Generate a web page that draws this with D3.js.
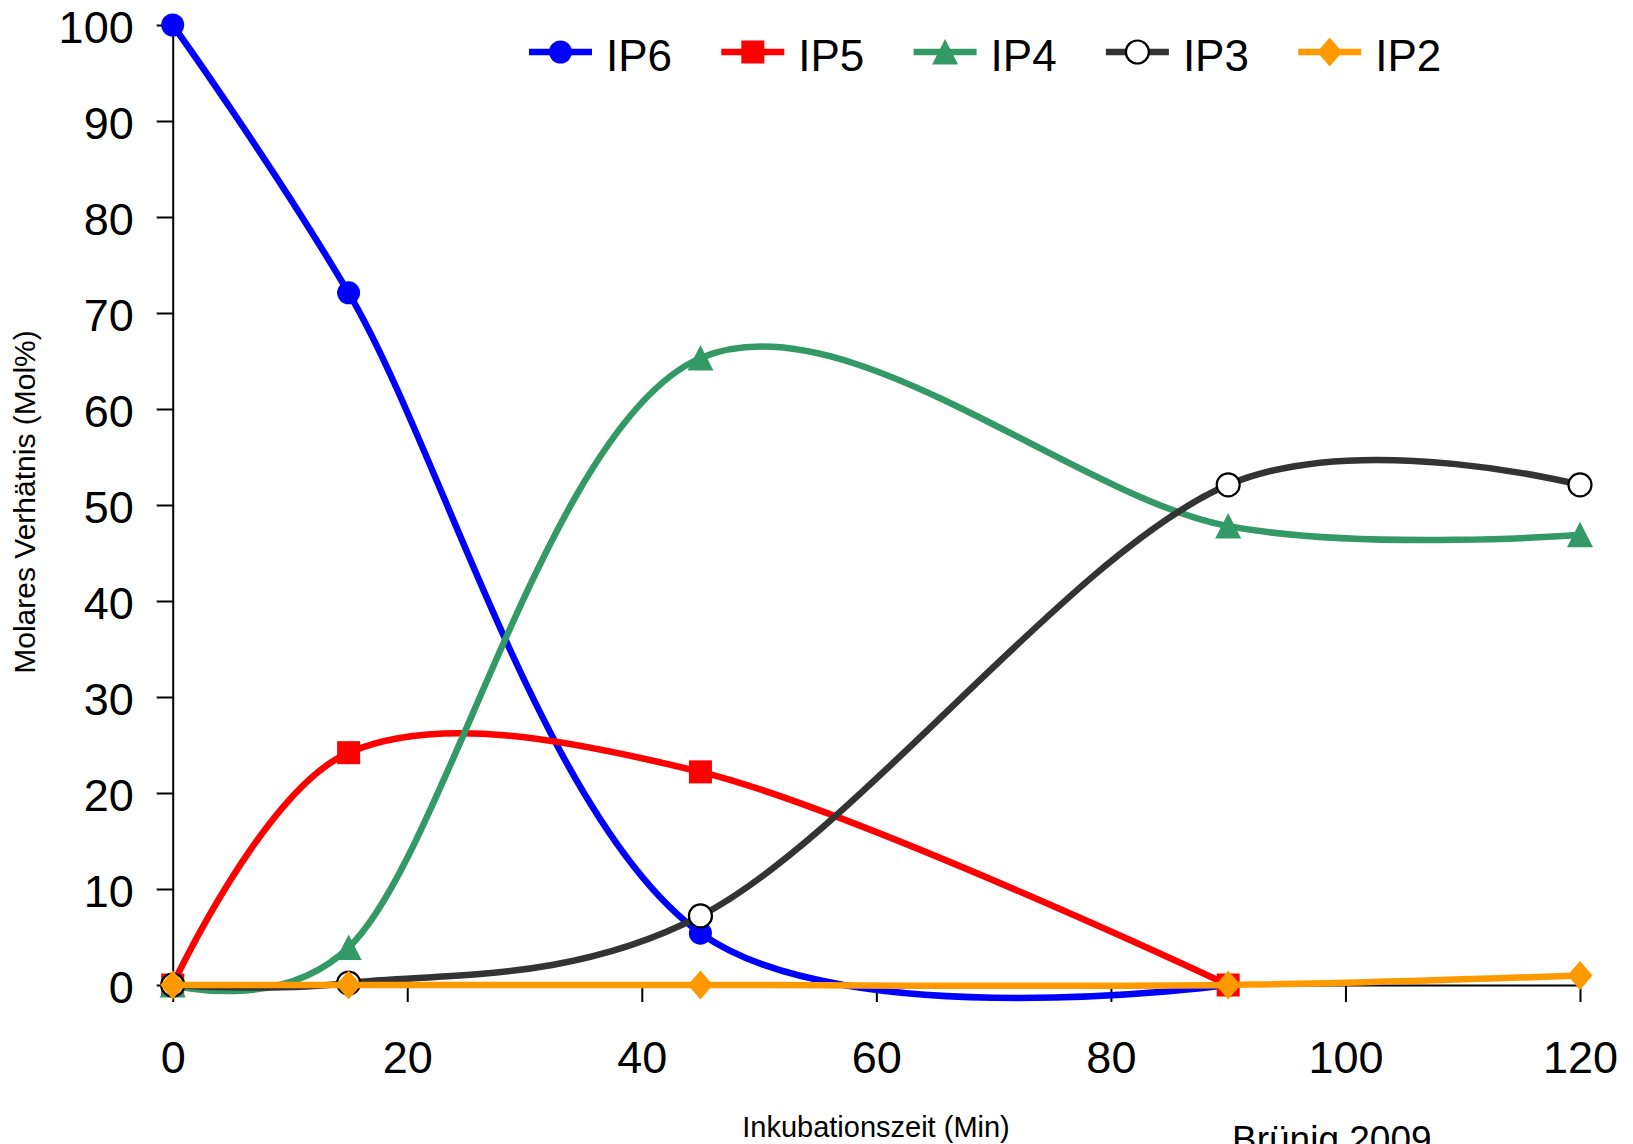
<!DOCTYPE html>
<html>
<head>
<meta charset="utf-8">
<script src="https://cdn.jsdelivr.net/npm/d3@7"></script>
<style>
  html, body { margin: 0; padding: 0; background: #fff; }
  svg { display: block; }
  text { font-family: "Liberation Sans", Arial, Helvetica, sans-serif; fill: #000; }
</style>
</head>
<body>
<svg id="chart" width="1633" height="1144"></svg>
<script>
// ---- data ----
const times = [0, 15, 45, 90, 120];
const seriesNames = ["IP6", "IP5", "IP4", "IP3", "IP2"];
const ip6 = [100, 72.1, 5.4, 0, null];
const ip5 = [0, 24.2, 22.2, 0, null];
const ip4 = [0, 3.9, 65.3, 47.8, 46.9];
const ip3 = [0, 0.2, 7.2, 52.1, 52.1];
const ip2 = [0, 0, 0, 0, 1.0];
const xTickValues = [0, 20, 40, 60, 80, 100, 120];
const yTickValues = [0, 10, 20, 30, 40, 50, 60, 70, 80, 90, 100];
const xTitle = "Inkubationszeit (Min)";
const yTitle = "Molares Verhätnis (Mol%)";
const sourceNote = "Brünig 2009";

// ---- styles ----
const seriesValues = [ip6, ip5, ip4, ip3, ip2];
const colors = ["#0000ff", "#ff0000", "#339966", "#333333", "#ff9900"];
const shapes = ["circle", "square", "triangle", "circleOpen", "diamond"];

const svg = d3.select("#chart");
svg.append("rect").attr("width", 1633).attr("height", 1144).attr("fill", "#fff");

const x = d3.scaleLinear().domain([0, 120]).range([172.7, 1580]);
const y = d3.scaleLinear().domain([0, 100]).range([985, 25]);

// axes
const yAxis = d3.axisLeft(y).tickValues(yTickValues).tickSize(16).tickSizeOuter(0).tickPadding(23);
const xAxis = d3.axisBottom(x).tickValues(xTickValues).tickSize(17).tickSizeOuter(0).tickPadding(39);

const gy = svg.append("g").attr("transform", `translate(${x(0)},0)`).call(yAxis);
const gx = svg.append("g").attr("transform", `translate(0,${y(0)})`).call(xAxis);
[gx, gy].forEach(g => {
  g.select(".domain").attr("stroke", "#000").attr("stroke-width", 2);
  g.selectAll(".tick line").attr("stroke", "#000").attr("stroke-width", 2);
  g.selectAll(".tick text").attr("font-size", 45).attr("fill", "#000")
    .attr("font-family", '"Liberation Sans", Arial, sans-serif');
});
gy.selectAll(".tick text").attr("dy", "0.38em");

// titles
svg.append("text")
  .attr("transform", `translate(35,502) rotate(-90)`)
  .attr("text-anchor", "middle")
  .attr("font-size", 30)
  .text(yTitle);
svg.append("text")
  .attr("x", 876).attr("y", 1137)
  .attr("text-anchor", "middle")
  .attr("font-size", 29)
  .text(xTitle);
svg.append("text")
  .attr("x", 1232).attr("y", 1152)
  .attr("font-size", 37)
  .text(sourceNote);

// marker paths
function markerPath(shape) {
  const p = d3.path();
  if (shape === "circle" || shape === "circleOpen") {
    p.arc(0, 0, 11.5, 0, 2 * Math.PI); p.closePath();
  } else if (shape === "square") {
    p.rect(-11.5, -11.5, 23, 23);
  } else if (shape === "triangle") {
    p.moveTo(0, -13); p.lineTo(13, 12.5); p.lineTo(-13, 12.5); p.closePath();
  } else if (shape === "diamond") {
    p.moveTo(0, -14.5); p.lineTo(12.5, 0); p.lineTo(0, 14.5); p.lineTo(-12.5, 0); p.closePath();
  }
  return p.toString();
}
function styleMarker(sel, i) {
  const open = shapes[i] === "circleOpen";
  sel.attr("d", markerPath(shapes[i]))
    .attr("fill", open ? "#fff" : colors[i])
    .attr("stroke", open ? "#000" : "none")
    .attr("stroke-width", open ? 2.2 : 0);
}

const line = d3.line()
  .x(d => x(d.t))
  .y(d => y(d.v))
  .curve(d3.curveCatmullRom.alpha(0.25));

const plot = svg.append("g");
seriesValues.forEach((vals, i) => {
  const pts = times.map((t, k) => ({ t, v: vals[k] })).filter(d => d.v !== null);
  const g = plot.append("g");
  g.append("path")
    .datum(pts)
    .attr("d", line)
    .attr("fill", "none")
    .attr("stroke", colors[i])
    .attr("stroke-width", 6.5)
    .attr("stroke-linejoin", "round");
  g.selectAll("path.m").data(pts).join("path")
    .attr("class", "m")
    .attr("transform", d => `translate(${x(d.t)},${y(d.v)})`)
    .call(styleMarker, i);
});

// legend
const legend = svg.append("g");
seriesNames.forEach((name, i) => {
  const g = legend.append("g").attr("transform", `translate(${529 + i * 192.3},52)`);
  g.append("line").attr("x1", 0).attr("x2", 63).attr("y1", 0).attr("y2", 0)
    .attr("stroke", colors[i]).attr("stroke-width", 6.5);
  g.append("path").attr("transform", "translate(31.5,0)").call(styleMarker, i);
  g.append("text").attr("x", 77).attr("y", 19).attr("font-size", 44).text(name);
});
</script>
</body>
</html>
